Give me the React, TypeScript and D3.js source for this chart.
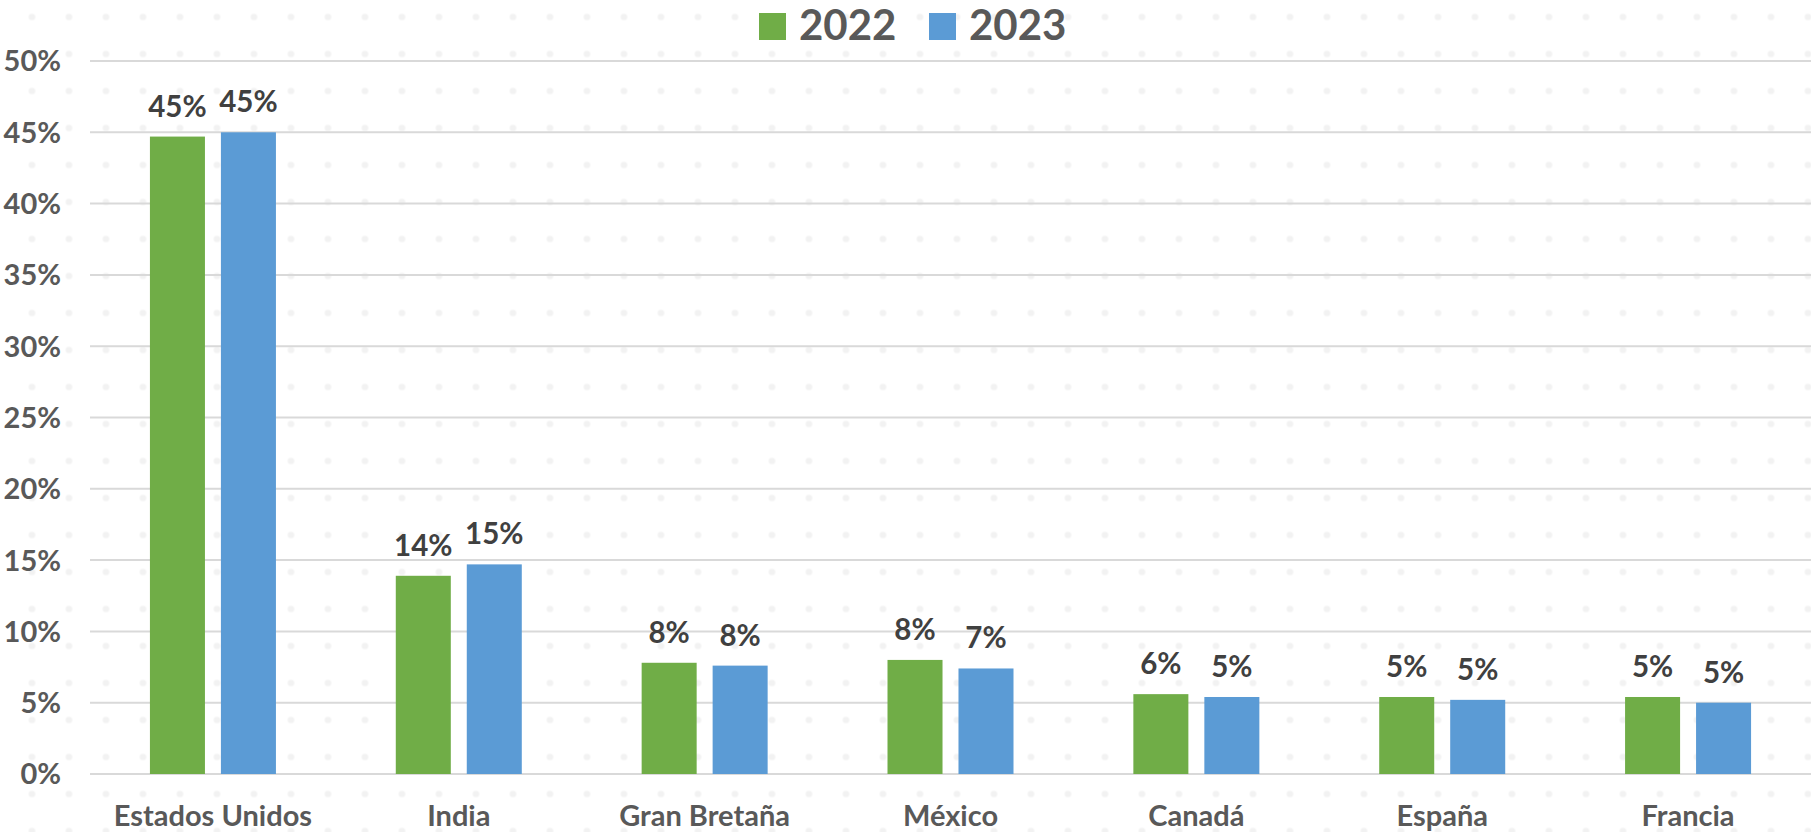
import { useEffect, useRef } from 'react';
import * as d3 from 'd3';

// data
const countries = ['Estados Unidos', 'India', 'Gran Bretaña', 'México', 'Canadá', 'España', 'Francia'];
const years = ['2022', '2023'];
const values2022 = [44.7, 13.9, 7.8, 8.0, 5.6, 5.4, 5.4];
const values2023 = [45.0, 14.7, 7.6, 7.4, 5.4, 5.2, 5.0];
const yTicks = [0, 5, 10, 15, 20, 25, 30, 35, 40, 45, 50];
const colors = ['#70AD47', '#5B9BD5'];

const W = 1811;
const H = 832;
const FONT = 'Lato, "Open Sans", sans-serif';

const App = () => {
  const ref = useRef<SVGSVGElement | null>(null);

  useEffect(() => {
    const svg = d3.select(ref.current);
    svg.selectAll('*').remove();

    const margin = { top: 61, right: 0, bottom: 58, left: 90 };
    const innerWidth = W - margin.left - margin.right;
    const innerHeight = H - margin.top - margin.bottom;

    // dotted background
    const defs = svg.append('defs');
    const pat = defs
      .append('pattern')
      .attr('id', 'dots')
      .attr('patternUnits', 'userSpaceOnUse')
      .attr('x', -5 - 18.5)
      .attr('y', 17 - 18.5)
      .attr('width', 37)
      .attr('height', 37);
    pat.append('circle').attr('cx', 18.5).attr('cy', 18.5).attr('r', 3.3).attr('fill', '#f2f2f2');
    svg.append('rect').attr('width', W).attr('height', H).attr('fill', '#fff');
    svg.append('rect').attr('width', W).attr('height', H).attr('fill', 'url(#dots)');

    const x0 = d3.scaleBand<string>().domain(countries).range([0, innerWidth]);
    const x1 = d3
      .scaleBand<string>()
      .domain(years)
      .range([0, 126])
      .paddingInner(0.225);
    const y = d3.scaleLinear().domain([0, 50]).range([innerHeight, 0]);

    const g = svg.append('g').attr('transform', `translate(${margin.left},${margin.top})`);

    // grid
    g.append('g')
      .selectAll('line')
      .data(yTicks)
      .join('line')
      .attr('x1', 0)
      .attr('x2', innerWidth)
      .attr('y1', d => y(d))
      .attr('y2', d => y(d))
      .attr('stroke', '#d9d9d9')
      .attr('stroke-width', 2);

    // y labels
    g.append('g')
      .selectAll('text')
      .data(yTicks)
      .join('text')
      .attr('x', -29)
      .attr('y', d => y(d))
      .attr('dy', '0.36em')
      .attr('text-anchor', 'end')
      .attr('font-family', FONT)
      .attr('font-weight', 700)
      .attr('font-size', 29)
      .attr('fill', '#595959')
      .text(d => `${d}%`);

    const series = [values2022, values2023];
    const groupOffset = (x0.bandwidth() - 126) / 2;

    series.forEach((vals, si) => {
      const rows = countries.map((c, i) => ({ c, v: vals[i] }));
      const gx = (c: string) => (x0(c) ?? 0) + groupOffset + (x1(years[si]) ?? 0);

      g.append('g')
        .selectAll('rect')
        .data(rows)
        .join('rect')
        .attr('x', d => gx(d.c))
        .attr('y', d => y(d.v))
        .attr('width', x1.bandwidth())
        .attr('height', d => innerHeight - y(d.v))
        .attr('fill', colors[si]);

      g.append('g')
        .selectAll('text')
        .data(rows)
        .join('text')
        .attr('x', d => gx(d.c) + x1.bandwidth() / 2)
        .attr('y', d => y(d.v) - 20)
        .attr('text-anchor', 'middle')
        .attr('font-family', FONT)
        .attr('font-weight', 700)
        .attr('font-size', 29.5)
        .attr('fill', '#404040')
        .text(d => `${Math.round(d.v)}%`);
    });

    // x labels
    g.append('g')
      .selectAll('text')
      .data(countries)
      .join('text')
      .attr('x', d => (x0(d) ?? 0) + x0.bandwidth() / 2)
      .attr('y', innerHeight + 52)
      .attr('text-anchor', 'middle')
      .attr('font-family', FONT)
      .attr('font-weight', 700)
      .attr('font-size', 29)
      .attr('fill', '#595959')
      .text(d => d);

    // legend
    const legend = svg.append('g');
    const legendX = [759, 929];
    years.forEach((yr, i) => {
      legend
        .append('rect')
        .attr('x', legendX[i])
        .attr('y', 13)
        .attr('width', 27)
        .attr('height', 27)
        .attr('fill', colors[i]);
      legend
        .append('text')
        .attr('x', legendX[i] + 40)
        .attr('y', 40)
        .attr('font-family', FONT)
        .attr('font-weight', 700)
        .attr('font-size', 42)
        .attr('fill', '#595959')
        .text(yr);
    });
  }, []);

  return (
    <svg
      ref={ref}
      width={W}
      height={H}
      style={{ position: 'absolute', left: 0, top: 0, display: 'block' }}
    ></svg>
  );
};

export default App;
